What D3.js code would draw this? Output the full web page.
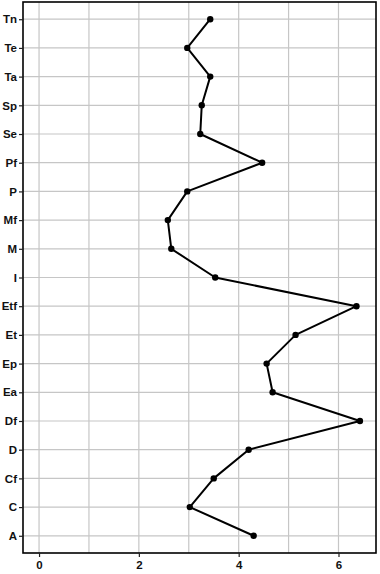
<!DOCTYPE html>
<html>
<head>
<meta charset="utf-8">
<script src="https://cdn.jsdelivr.net/npm/d3@7"></script>
<style>
  body { margin: 0; background: #fff; }
  text { font-family: "Liberation Sans", Arial, sans-serif; }
</style>
</head>
<body>
<svg id="chart" width="380" height="574"></svg>
<script>
// categories bottom to top, and their values
var categories = ["A", "C", "Cf", "D", "Df", "Ea", "Ep", "Et", "Etf", "I", "M", "Mf", "P", "Pf", "Se", "Sp", "Ta", "Te", "Tn"];
var values = [4.30, 3.02, 3.50, 4.20, 6.43, 4.68, 4.56, 5.14, 6.36, 3.53, 2.65, 2.58, 2.97, 4.47, 3.23, 3.26, 3.43, 2.97, 3.43];
var xTicks = [0, 2, 4, 6];
var xGrid = [0, 1, 2, 3, 4, 5, 6];

var svg = d3.select("#chart"),
    margin = {top: 2, right: 4, bottom: 21, left: 23},
    width = +svg.attr("width") - margin.left - margin.right,
    height = +svg.attr("height") - margin.top - margin.bottom,
    g = svg.append("g").attr("transform", "translate(" + margin.left + "," + margin.top + ")");

var data = categories.map(function(c, i) { return {cat: c, val: values[i]}; });

// x: 0..max with 5% expansion each side
var xmax = d3.max(values);
var pad = xmax * 0.05;
var x = d3.scaleLinear()
    .domain([-pad, xmax + pad])
    .range([0, width]);

// discrete y with 0.6 unit expansion
var y = d3.scalePoint()
    .domain(categories)
    .range([height, 0])
    .padding(0.6);

// grid
g.append("g")
  .selectAll("line")
  .data(xGrid)
  .enter().append("line")
    .attr("x1", function(d) { return x(d); })
    .attr("x2", function(d) { return x(d); })
    .attr("y1", 0)
    .attr("y2", height)
    .attr("stroke", "#c6c6c6")
    .attr("stroke-width", 1.2);

g.append("g")
  .selectAll("line")
  .data(categories)
  .enter().append("line")
    .attr("x1", 0)
    .attr("x2", width)
    .attr("y1", function(d) { return y(d); })
    .attr("y2", function(d) { return y(d); })
    .attr("stroke", "#c6c6c6")
    .attr("stroke-width", 1.2);

// line + points
var line = d3.line()
    .x(function(d) { return x(d.val); })
    .y(function(d) { return y(d.cat); });

g.append("path")
    .datum(data)
    .attr("fill", "none")
    .attr("stroke", "#000")
    .attr("stroke-width", 2)
    .attr("stroke-linejoin", "round")
    .attr("d", line);

g.append("g")
  .selectAll("circle")
  .data(data)
  .enter().append("circle")
    .attr("cx", function(d) { return x(d.val); })
    .attr("cy", function(d) { return y(d.cat); })
    .attr("r", 3.2)
    .attr("fill", "#000");

// panel border
g.append("rect")
    .attr("x", 0)
    .attr("y", 0)
    .attr("width", width)
    .attr("height", height)
    .attr("fill", "none")
    .attr("stroke", "#000")
    .attr("stroke-width", 1.6);

// axes
var yAxis = g.append("g")
    .call(d3.axisLeft(y).tickSize(4).tickPadding(2));
yAxis.select(".domain").remove();

var xAxis = g.append("g")
    .attr("transform", "translate(0," + height + ")")
    .call(d3.axisBottom(x).tickValues(xTicks).tickFormat(d3.format("d")).tickSize(4).tickPadding(4));
xAxis.select(".domain").remove();

g.selectAll(".tick line").attr("stroke", "#222").attr("stroke-width", 1.2);
g.selectAll(".tick text")
    .attr("fill", "#111")
    .attr("font-size", 11.5)
    .attr("font-weight", "bold");
</script>
</body>
</html>
